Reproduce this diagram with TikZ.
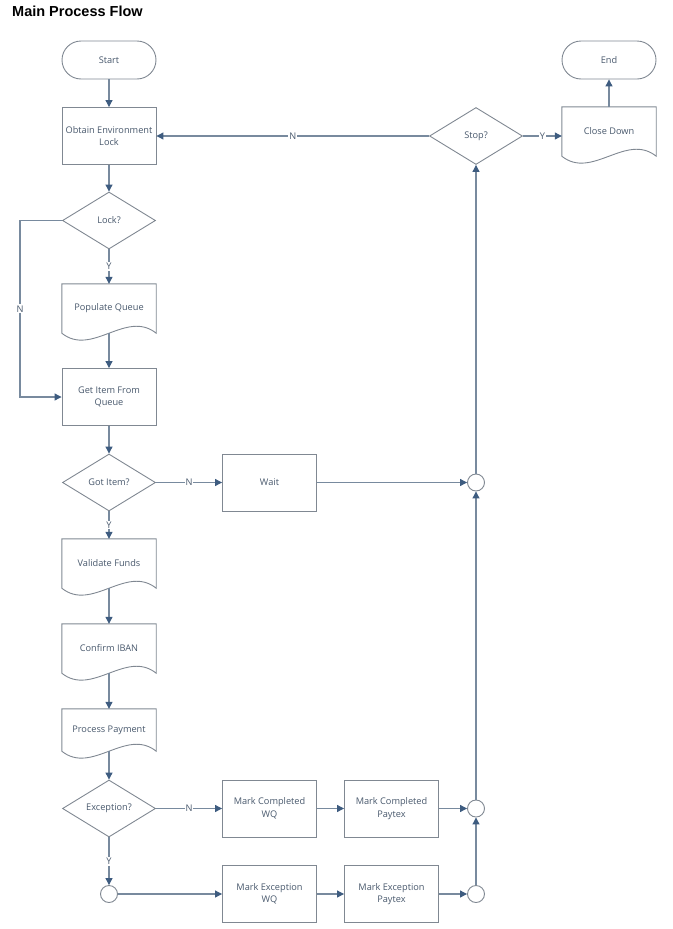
\documentclass[tikz,border=0pt]{standalone}
\usepackage{fontspec}
\setmainfont{Open Sans}
\newfontfamily\titlefont{Liberation Sans}
\usepackage{xcolor}
\usepackage{tikz}
\usetikzlibrary{arrows.meta,shapes.geometric}
\definecolor{shapec}{RGB}{128,136,146}
\definecolor{flowc}{RGB}{120,138,158}
\definecolor{arrowc}{RGB}{62,92,128}
\definecolor{textc}{RGB}{72,88,108}
\tikzset{
  every node/.style={
    font=\fontsize{9.2}{12.5}\selectfont,text=textc,align=center,
  },
  term/.style={
    draw=shapec,line width=0.9pt,rectangle,rounded corners=19pt,
    minimum width=94pt,minimum height=38pt,
  },
  proc/.style={
    draw=shapec,line width=0.9pt,rectangle,
    minimum width=94pt,minimum height=57pt,
  },
  decision/.style={
    draw=shapec,line width=0.9pt,diamond,inner sep=0pt,
    minimum width=93pt,minimum height=57pt,
  },
  docbox/.style={
    rectangle,minimum width=94pt,minimum height=49pt,
  },
  junction/.style={
    draw=shapec,line width=0.9pt,circle,minimum size=17pt,inner sep=0pt,
  },
  flow/.style={
    draw=flowc,line width=1.1pt,-{Triangle[length=7pt,width=7pt,color=arrowc]},
  },
  lbl/.style={
    fill=white,inner sep=1pt,
  },
}
% outline of a document box, wave at the bottom
\newcommand{\docwave}[1]{%
  \draw[draw=shapec,line width=0.9pt] (#1.south west) -- (#1.north west) -- (#1.north east) -- (#1.south east)
    .. controls +(-30pt,24pt) and +(30pt,-24pt) .. (#1.south west) -- cycle;}

\begin{document}
\begin{tikzpicture}[x=1pt,y=-1pt]
			\useasboundingbox (0,0) rectangle (672,929);
			\node[anchor=base west,inner sep=0pt,text=black,font=\titlefont\bfseries\fontsize{14.5}{16}\selectfont] (title) at (12,16.5) {Main Process Flow};
			% left column
			\node[term] (start) at (109,60) {Start};
			\node[proc] (obtain) at (109,136) {Obtain Environment\\Lock};
			\node[decision] (lock) at (109,220.5) {Lock?};
			\node[docbox] (populate) at (109,308.5) {Populate Queue};
			\node[proc] (getitem) at (109,397) {Get Item From\\Queue};
			\node[decision] (gotitem) at (109,482.5) {Got Item?};
			\node[docbox] (validate) at (109,563.5) {Validate Funds};
			\node[docbox] (confirm) at (109,648.5) {Confirm IBAN};
			\node[docbox,minimum height=42pt] (process) at (109,730) {Process Payment};
			\node[decision] (exception) at (109,808.5) {Exception?};
			\node[junction] (joinexc) at (109,894) {};
			% middle
			\node[proc] (wait) at (269.5,482.5) {Wait};
			\node[proc] (mcwq) at (269.5,808.5) {Mark Completed\\WQ};
			\node[proc] (mewq) at (269.5,894) {Mark Exception\\WQ};
			\node[proc] (mcpt) at (391.5,808.5) {Mark Completed\\Paytex};
			\node[proc] (mept) at (391.5,894) {Mark Exception\\Paytex};
			% right side
			\node[junction] (joinexp) at (476,894) {};
			\node[junction] (joincmp) at (476,808.5) {};
			\node[junction] (joinwait) at (476,482.5) {};
			\node[decision] (stop) at (476,136) {Stop?};
			\node[docbox] (close) at (609,131.5) {Close Down};
			\node[term] (end) at (609,60) {End};
			\docwave{populate}
			\docwave{validate}
			\docwave{confirm}
			\docwave{process}
			\docwave{close}
			% connectors
			\draw[flow] (start) -- (obtain);
			\draw[flow] (obtain) -- (lock);
			\draw[flow] (lock) -- node[lbl] {Y} (populate);
			\draw[flow] (lock.west) -- (20,220.5) -- node[lbl] {N} (20,397) -- (getitem.west);
			\draw[flow] (populate) -- (getitem);
			\draw[flow] (getitem) -- (gotitem);
			\draw[flow] (gotitem) -- node[lbl] {N} (wait);
			\draw[flow] (gotitem) -- node[lbl] {Y} (validate);
			\draw[flow] (validate) -- (confirm);
			\draw[flow] (confirm) -- (process);
			\draw[flow] (process) -- (exception);
			\draw[flow] (exception) -- node[lbl] {N} (mcwq);
			\draw[flow] (exception) -- node[lbl] {Y} (joinexc);
			\draw[flow] (joinexc) -- (mewq);
			\draw[flow] (mcwq) -- (mcpt);
			\draw[flow] (mewq) -- (mept);
			\draw[flow] (mcpt) -- (joincmp);
			\draw[flow] (mept) -- (joinexp);
			\draw[flow] (joinexp) -- (joincmp);
			\draw[flow] (joincmp) -- (joinwait);
			\draw[flow] (wait) -- (joinwait);
			\draw[flow] (joinwait) -- (stop);
			\draw[flow] (stop) -- node[lbl] {N} (obtain);
			\draw[flow] (stop.east) -- node[lbl] {Y} (stop.east -| close.west);
			\draw[flow] (close) -- (end);
		\end{tikzpicture}
\end{document}
